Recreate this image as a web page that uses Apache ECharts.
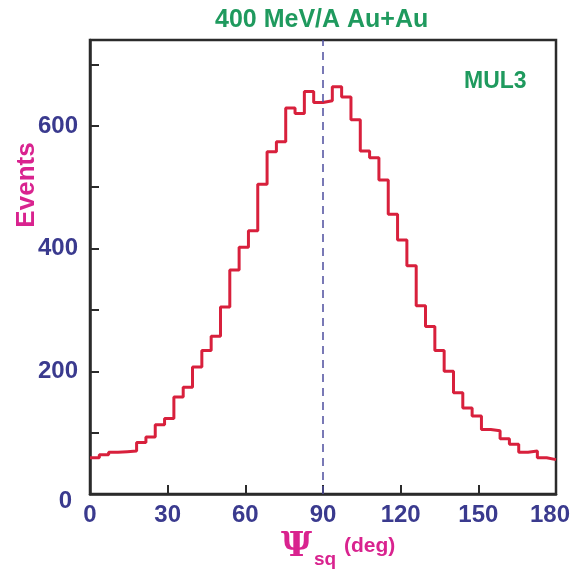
<!DOCTYPE html>
<html>
<head>
<meta charset="utf-8">
<script src="https://cdn.jsdelivr.net/npm/echarts@6/dist/echarts.min.js"></script>
<style>
html, body { margin: 0; padding: 0; background: #fff; }
#chart { width: 571px; height: 574px; }
</style>
</head>
<body>
<div id="chart"></div>
<script>
// histogram: 50 bins of 3.6 deg between 0 and 180
var binWidth = 3.6;
var counts = [59, 64, 68, 69, 70, 84, 93, 113, 123, 158,
              174, 207, 234, 257, 305, 365, 402, 429, 505, 558,
              574, 629, 620, 656, 638, 641, 664, 647, 610, 559,
              548, 512, 456, 414, 372, 307, 273, 234, 200, 165,
              140, 127, 105, 103, 90, 81, 68, 70, 59, 56];
var xTickLabels = [0, 30, 60, 90, 120, 150, 180];
var yTickLabels = [0, 200, 400, 600];
var refAngle = 90;

var green = '#1f9a5e';
var blue = '#3a3a8e';
var magenta = '#d9238f';

// left edge of every bin, plus the closing edge
var points = counts.map(function (c, i) { return [i * binWidth, c]; });
points.push([counts.length * binWidth, counts[counts.length - 1]]);

var labelFont = { color: blue, fontSize: 24, fontWeight: 'bold', fontFamily: 'Liberation Sans' };

var chart = echarts.init(document.getElementById('chart'));
chart.setOption({
    animation: false,
    backgroundColor: '#fff',
    textStyle: { fontFamily: 'Liberation Sans' },
    title: {
        text: '400 MeV/A Au+Au',
        left: 210,
        top: 3,
        textStyle: { color: green, fontSize: 25, fontWeight: 'bold', fontFamily: 'Liberation Sans' }
    },
    grid: {
        left: 90, right: 15, top: 40, bottom: 80,
        outerBoundsMode: 'none',
        containLabel: false,
        show: true,
        borderColor: '#2b2b2b',
        borderWidth: 2.5
    },
    xAxis: {
        type: 'value',
        min: 0,
        max: 180,
        interval: 30,
        axisLine: { show: true, lineStyle: { color: '#2b2b2b', width: 2.5 } },
        axisTick: { show: true, inside: true, length: 9, lineStyle: { color: '#2b2b2b', width: 2 } },
        splitLine: { show: false },
        axisLabel: Object.assign({}, labelFont, {
            margin: 9,
            hideOverlap: false,
            formatter: function (v) {
                if (v === 180) return '{e|180}';
                return xTickLabels.indexOf(v) >= 0 ? String(v) : '';
            },
            rich: {
                e: Object.assign({}, labelFont, { padding: [0, 12, 0, 0] })
            }
        })
    },
    yAxis: {
        type: 'value',
        min: 0,
        max: 740,
        interval: 100,
        axisLine: { show: true, lineStyle: { color: '#2b2b2b', width: 2.5 } },
        axisTick: { show: true, inside: true, length: 9, lineStyle: { color: '#2b2b2b', width: 2 } },
        splitLine: { show: false },
        axisLabel: Object.assign({}, labelFont, {
            margin: 12,
            formatter: function (v) {
                if (v === 0) return '{z|0}';
                return yTickLabels.indexOf(v) >= 0 ? String(v) : '';
            },
            rich: {
                z: Object.assign({}, labelFont, { padding: [14, 6, 0, 0] })
            }
        })
    },
    series: [{
        type: 'line',
        step: 'end',
        data: points,
        showSymbol: false,
        symbol: 'none',
        lineStyle: { color: '#d8203c', width: 3 },
        markLine: {
            silent: true,
            symbol: 'none',
            label: { show: false },
            lineStyle: { color: '#4d4d9e', width: 1.5, type: [8, 6] },
            data: [{ xAxis: refAngle }]
        }
    }],
    graphic: [
        {
            type: 'text', left: 464, top: 70,
            style: { text: 'MUL3', fill: green, fontSize: 23, fontWeight: 'bold', fontFamily: 'Liberation Sans' }
        },
        {
            type: 'text', x: 27, y: 185, rotation: Math.PI / 2,
            style: { text: 'Events', fill: magenta, fontSize: 26, fontWeight: 'bold', fontFamily: 'Liberation Sans',
                     align: 'center', verticalAlign: 'middle' }
        },
        {
            type: 'text', x: 281, y: 530,
            style: { text: 'Ψ', fill: magenta, fontSize: 34, fontWeight: 'bold', fontFamily: 'DejaVu Serif' }
        },
        {
            type: 'text', x: 314, y: 550,
            style: { text: 'sq', fill: magenta, fontSize: 19, fontWeight: 'bold', fontFamily: 'Liberation Sans' }
        },
        {
            type: 'text', x: 344, y: 536,
            style: { text: '(deg)', fill: magenta, fontSize: 21, fontWeight: 'bold', fontFamily: 'Liberation Sans' }
        }
    ]
});
</script>
</body>
</html>
